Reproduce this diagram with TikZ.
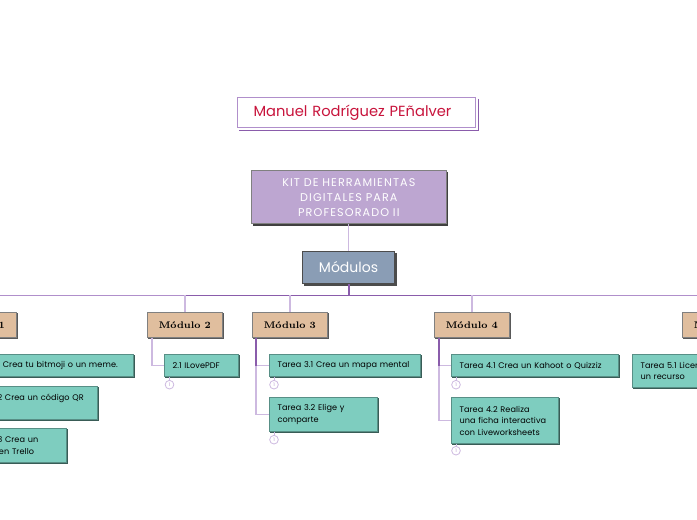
\documentclass[tikz,border=0pt]{standalone}
\usepackage{fontspec}
\usepackage{tikz}
\usetikzlibrary{calc,shadows}
\newfontfamily\mapfont{Poppins}
\newfontfamily\kitfont[LetterSpace=10]{Poppins}
\newfontfamily\taskfont[LetterSpace=1]{Poppins}
\definecolor{titlered}{HTML}{C8143C}
\definecolor{purpledark}{HTML}{8A5CAB}
\definecolor{purplemid}{HTML}{B08FCB}
\definecolor{purplelite}{HTML}{CDB9E0}
\definecolor{kitfill}{HTML}{BDA6D1}
\definecolor{modfill}{HTML}{8A9DB5}
\definecolor{secfill}{HTML}{E0BE9E}
\definecolor{taskfill}{HTML}{7ECDBF}
\tikzset{
  box/.style={draw, line width=0.8pt, inner sep=0pt, anchor=north west},
  titlebox/.style={box, draw=purplemid, fill=white, text=titlered},
  titleedge/.style={draw=purpledark, line width=0.8pt},
  kitbox/.style={box, draw=gray, fill=kitfill, text=white, align=center, copy shadow={shadow xshift=1.2pt, shadow yshift=-1.2pt, draw=black!75, fill=black!75}},
  modbox/.style={box, draw=black!70, fill=modfill, text=white, copy shadow={shadow xshift=1.5pt, shadow yshift=-1.5pt, draw=black!70, fill=black!70}},
  secbox/.style={box, draw=black!50, fill=secfill, copy shadow={shadow xshift=1pt, shadow yshift=-1pt, draw=black!65, fill=black!65}},
  taskbox/.style={box, draw=black!30!taskfill, fill=taskfill, align=left, copy shadow={shadow xshift=1pt, shadow yshift=-1pt, draw=black!55!taskfill, fill=black!55!taskfill}},
  count/.style={circle, draw=purplelite, fill=white, line width=0.6pt, minimum size=6.5pt, inner sep=0pt, text=purplemid, font=\mapfont\fontsize{3.5}{4}\selectfont},
  lite/.style={draw=purplelite, line width=1pt},
  dark/.style={draw=purpledark, line width=0.9pt},
}
\begin{document}
\begin{tikzpicture}[x=0.75pt,y=-0.75pt]
        \useasboundingbox (0,0) rectangle (697,520);
        \clip (0,0) rectangle (697,520);
        % Title and root
        \node[titlebox, minimum width=178.5pt, minimum height=22.5pt, text width=154.5pt, font=\mapfont\fontsize{11}{13}\selectfont] (author) at (237,97) {Manuel Rodríguez PEñalver};
        \draw[titleedge] ($(author.north east)+(2,2)$) -- ($(author.south east)+(2,2)$) -- ($(author.south west)+(2,2)$);
        \node[kitbox, minimum width=146pt, minimum height=40pt, text width=140pt, font=\kitfont\fontsize{8.4}{11.2}\selectfont] (kit) at (251,170) {KIT DE HERRAMIENTAS\\DIGITALES PARA\\PROFESORADO II};
        \node[modbox, minimum width=69pt, minimum height=24pt, font=\mapfont\fontsize{10.5}{12}\selectfont] (modulos) at (302,251) {Módulos};
        % Module headers
        \foreach \name/\xx/\num in {m1/-59/1, m2/147/2, m3/252/3, m4/434/4, m5/682/5} {
            \node[secbox, minimum width=56pt, minimum height=18.5pt, font=\rmfamily\bfseries\fontsize{7.2}{9}\selectfont] (\name) at (\xx,312) {Módulo \num};
          }
        % Bar under the root
        \coordinate (barleft) at (0,295.5);
        \coordinate (barright) at (697,295.5);
        \draw[lite] (kit.south -| modulos.north) -- (modulos.north);
        \draw[lite, draw=purplemid] (barleft) -- (barright);
        \draw[dark] (m2.north |- barleft) -- (m4.north |- barleft);
        \draw[dark, line width=1.5pt] (modulos.south) -- (modulos.south |- barleft);
        \foreach \name in {m1,m2,m3,m4,m5} {
            \draw[lite] (\name.north |- barleft) -- (\name.north);
          }
        % Tasks
        \foreach \name/\xx/\yy/\ww/\hh/\txt in {
            t11/-42/354/175/22/{Tarea 1.1 Crea tu bitmoji o un meme.},
            t12/-42/386/139/33/{Tarea 1.2 Crea un código QR\\\mbox{}},
            t13/-42/428/108/34/{Tarea 1.3 Crea un\\tablero en Trello},
            t21/164/354/74/22/{2.1 ILovePDF},
            t31/269/354/151/22/{Tarea 3.1 Crea un mapa mental},
            t32/269/397/108/34/{Tarea 3.2 Elige y\\comparte},
            t41/451/354/167/22/{Tarea 4.1 Crea un Kahoot o Quizziz},
            t42/451/397/107/46/{Tarea 4.2 Realiza\\una ficha interactiva\\con Liveworksheets},
            t51/632/354/170/33/{Tarea 5.1 Licencia\\un recurso}} {
            \node[taskbox, minimum width=\ww*0.75pt, minimum height=\hh*0.75pt, text width=(\ww-16)*0.75pt, font=\taskfont\fontsize{6.1}{8.6}\selectfont] (\name) at (\xx,\yy) {\txt};
          }
        % Branches from the headers
        \coordinate (trunk1) at ($(m1.south west)+(4,0)$);
        \coordinate (trunk2) at ($(m2.south west)+(5,0)$);
        \coordinate (trunk3) at ($(m3.south west)+(4,0)$);
        \coordinate (trunk4) at ($(m4.south west)+(5,0)$);
        \draw[lite] (trunk1) |- (t13.west);
        \draw[lite] (trunk1) |- (t12.west);
        \draw[lite] (trunk1) |- (t11.west);
        \draw[lite] (trunk2) |- (t21.west);
        \draw[lite] (trunk3) |- (t32.west);
        \draw[lite] (trunk3) |- (t31.west);
        \draw[dark] (trunk3) -- (trunk3 |- t31.west);
        \draw[lite] (trunk4) |- (t42.west);
        \draw[lite] (trunk4) |- (t41.west);
        \draw[dark] (trunk4) -- (trunk4 |- t41.west);
        % Small counters
        \foreach \name/\task/\xx/\yy in {c21/t21/169.5/384.7, c31/t31/274/384.7, c32/t32/274/439.7, c41/t41/456/384.7, c42/t42/456/450.7} {
            \node[count] (\name) at (\xx,\yy) {1};
            \draw[lite, line width=0.6pt] (\task.south -| \name) -- (\name);
          }
      \end{tikzpicture}
\end{document}
